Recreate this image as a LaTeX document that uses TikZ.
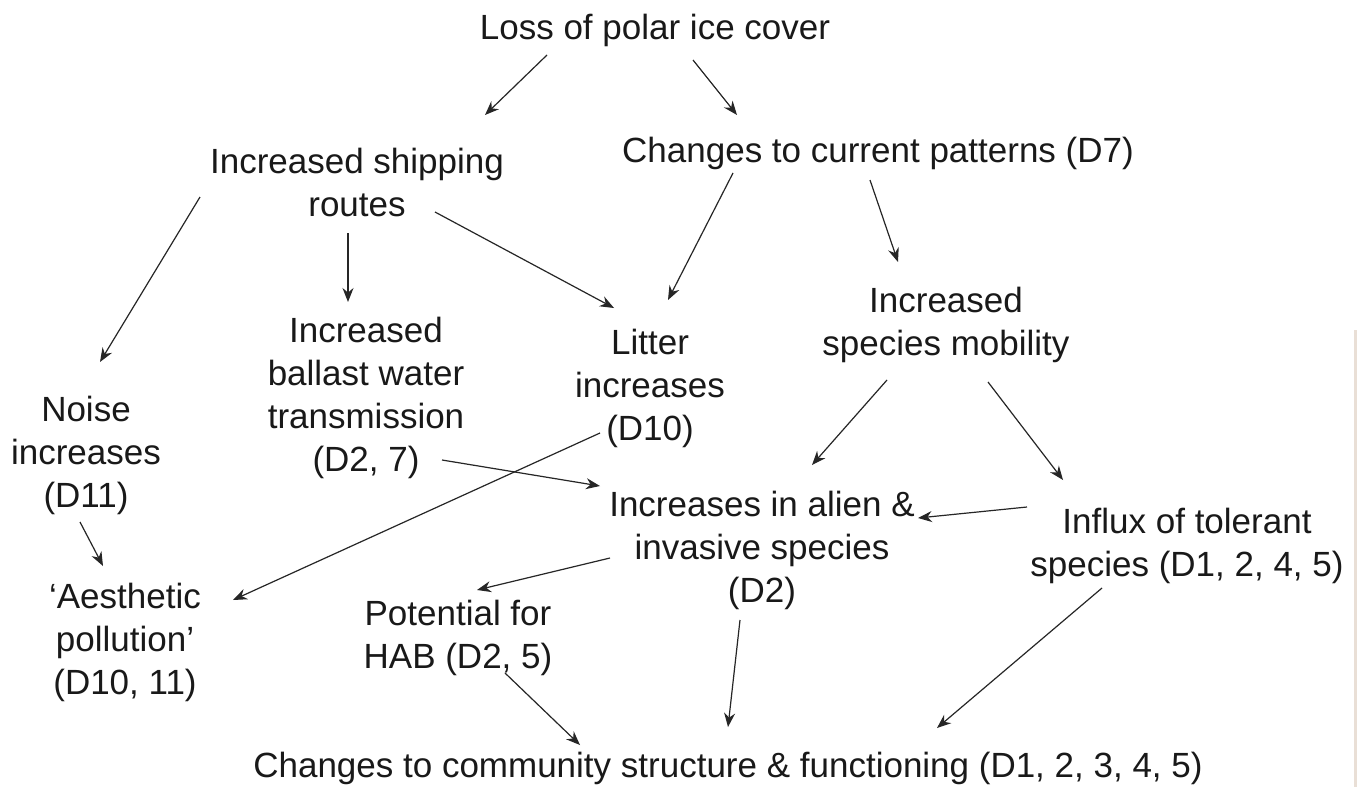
\documentclass[tikz,border=0pt]{standalone}
\usepackage{fontspec}
\setmainfont{Liberation Sans}
\usetikzlibrary{arrows.meta}
\tikzset{
  lbl/.style={align=center, inner sep=0pt, text=black!90, font=\fontsize{17.5pt}{21.5pt}\selectfont},
  conn/.style={draw=black!85, line width=0.6pt, -{Stealth[length=7pt,width=5.5pt]}},
  edgeart/.style={draw=black!25!brown!20, line width=1.5pt}
}
\begin{document}
\begin{tikzpicture}[x=0.5pt, y=-0.5pt]
\useasboundingbox[fill=white] (0,0) rectangle (1359,787);
% nodes (pixel centres)
\node[lbl] (top) at (655,30) {Loss of polar ice cover};
\node[lbl] (ship) at (357,182) {Increased shipping\\routes};
\node[lbl] (curr) at (878,153) {Changes to current patterns (D7)};
\node[lbl] (noise) at (86,455) {Noise\\increases\\(D11)};
\node[lbl] (ballast) at (366,398) {Increased\\ballast water\\transmission\\(D2, 7)};
\node[lbl] (litter) at (650,388) {Litter\\increases\\(D10)};
\node[lbl] (mob) at (946,325) {Increased\\species mobility};
\node[lbl] (alien) at (762,550) {Increases in alien \&\\invasive species\\(D2)};
\node[lbl] (tol) at (1187,546) {Influx of tolerant\\species (D1, 2, 4, 5)};
\node[lbl] (aes) at (125,642) {`Aesthetic\\pollution'\\(D10, 11)};
\node[lbl] (hab) at (458,638) {Potential for\\HAB (D2, 5)};
\node[lbl] (comm) at (728,768) {Changes to community structure \& functioning (D1, 2, 3, 4, 5)};
% connectors
\draw[conn] ([shift={(547-655,55-30)}]top.center) -- ([shift={(485-357,115-182)}]ship.center);
\draw[conn] ([shift={(693-655,60-30)}]top.center) -- ([shift={(737-878,115-153)}]curr.center);
\draw[conn] ([shift={(200-357,197-182)}]ship.center) -- ([shift={(100-86,362-455)}]noise.center);
\draw[conn] ([shift={(348-357,233-182)}]ship.center) -- ([shift={(348-366,302-398)}]ballast.center);
\draw[conn] ([shift={(435-357,212-182)}]ship.center) -- ([shift={(614-650,308-388)}]litter.center);
\draw[conn] ([shift={(733-878,173-153)}]curr.center) -- ([shift={(668-650,300-388)}]litter.center);
\draw[conn] ([shift={(870-878,180-153)}]curr.center) -- ([shift={(898-946,262-325)}]mob.center);
\draw[conn] ([shift={(887-946,380-325)}]mob.center) -- ([shift={(812-762,465-550)}]alien.center);
\draw[conn] ([shift={(988-946,382-325)}]mob.center) -- ([shift={(1063-1187,480-546)}]tol.center);
\draw[conn] ([shift={(442-366,460-398)}]ballast.center) -- ([shift={(600-762,486-550)}]alien.center);
\draw[conn] ([shift={(600-650,433-388)}]litter.center) -- ([shift={(233-125,600-642)}]aes.center);
\draw[conn] ([shift={(1027-1187,507-546)}]tol.center) -- ([shift={(918-762,518-550)}]alien.center);
\draw[conn] ([shift={(610-762,558-550)}]alien.center) -- ([shift={(477-458,590-638)}]hab.center);
\draw[conn] ([shift={(80-86,522-455)}]noise.center) -- ([shift={(103-125,566-642)}]aes.center);
\draw[conn] ([shift={(505-458,673-638)}]hab.center) -- ([shift={(580-728,745-768)}]comm.center);
\draw[conn] ([shift={(740-762,620-550)}]alien.center) -- ([shift={(728-728,727-768)}]comm.center);
\draw[conn] ([shift={(1102-1187,588-546)}]tol.center) -- ([shift={(937-728,728-768)}]comm.center);
% scan edge at right
\draw[edgeart] (1355,330) -- (1355,787);
\end{tikzpicture}
\end{document}
